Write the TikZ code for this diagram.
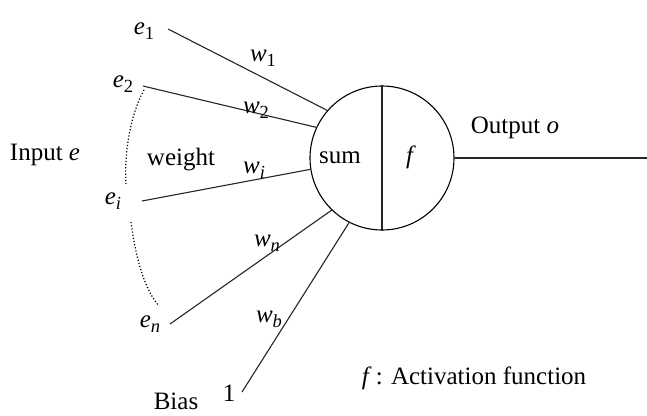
\documentclass[tikz,border=0pt]{standalone}
\usepackage{fontspec}
\setmainfont{Liberation Serif}
\newcommand\subv[2]{\textit{#1}\raisebox{-0.45ex}{\fontsize{18.5}{18.5}\selectfont #2}}
\begin{document}
\begin{tikzpicture}[x=1pt,y=-1pt,
  lbl/.style={inner sep=0pt,font=\fontsize{25}{25}\selectfont},
  wire/.style={line width=1.1pt,black!85}]
\useasboundingbox[fill=white] (0,0) rectangle (647,415);
% neuron
\node[circle,draw,line width=1.1pt,minimum size=144pt,inner sep=0pt] (c) at (382,158) {};
\draw[wire] (c.north) -- (c.south);
\node[lbl] (sum) at (340,158) {sum};
\node[lbl] (f) at (411,157) {\textit{f}};
% output
\coordinate (out) at (647,158);
\draw[wire] (c.east) -- (out);
\node[lbl] (outl) at (515,128) {Output \textit{o}};
% input points
\coordinate (p1) at (168,29);
\coordinate (p2) at (143,86);
\coordinate (pi) at (142,201);
\coordinate (pn) at (170,324);
\coordinate (pb) at (242,392);
\draw[wire] (p1) -- (c.139.9);
\draw[wire] (p2) -- (c.155.2);
\draw[wire] (pi) -- (c.189.2);
\draw[wire] (pn) -- (c.226.6);
\draw[wire] (pb) -- (c.243);
% input labels
\node[lbl] (e1) at (144,31) {\subv{e}{1}};
\node[lbl] (e2) at (123,84) {\subv{e}{2}};
\node[lbl] (ei) at (113,201) {\subv{e}{\textit{i}}};
\node[lbl] (en) at (150,324) {\subv{e}{\textit{n}}};
\node[lbl] (one) at (229,393) {1};
\node[lbl] (bias) at (176,401) {Bias};
\node[lbl] (input) at (45,155) {Input \textit{e}};
\node[lbl] (weight) at (181,160) {weight};
% weights
\node[lbl] (w1) at (263,58) {\subv{w}{1}};
\node[lbl] (w2) at (256,110) {\subv{w}{2}};
\node[lbl] (wi) at (254,170) {\subv{w}{\textit{i}}};
\node[lbl] (wn) at (267,243) {\subv{w}{\textit{n}}};
\node[lbl] (wb) at (269,319) {\subv{w}{\textit{b}}};
% dotted arcs
\coordinate (d1) at (144,90);
\coordinate (d2) at (126,184);
\coordinate (d3) at (131,222);
\coordinate (d4) at (159,306);
\draw[line width=1.2pt,dotted] (d1) .. controls (130,115) and (124,155) .. (d2);
\draw[line width=1.2pt,dotted] (d3) .. controls (136,260) and (145,290) .. (d4);
% legend
\node[lbl] (leg) at (474,378) {\textit{f}\,: Activation function};
\end{tikzpicture}
\end{document}
